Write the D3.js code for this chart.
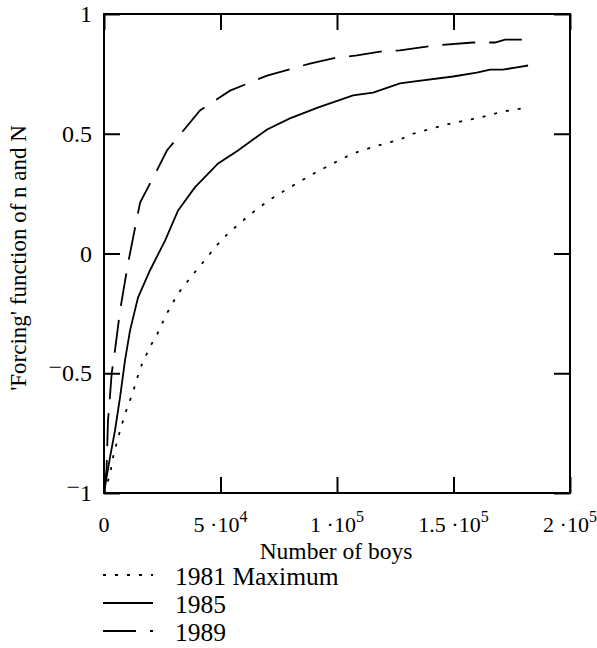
<!DOCTYPE html>
<html>
<head>
<meta charset="utf-8">
<script src="https://cdn.jsdelivr.net/npm/d3@7"></script>
<style>
  body { margin: 0; background: #fff; }
  text { font-family: "Liberation Serif", "Times New Roman", Times, serif; fill: #000; }
</style>
</head>
<body>
<div id="chart"></div>
<script>
// data (x = number of boys, y = forcing function)
var boys1981 = [0, 1100, 2600, 3900, 6000, 9000, 12400, 15500, 19700, 22700, 27000, 31800, 37800, 44200,
  47600, 51100, 54900, 62700, 71200, 79800, 89300, 98300, 106900, 117200, 127000, 132600, 147200,
  161400, 171200, 182000];
var force1981 = [-1, -0.97, -0.92, -0.85, -0.77, -0.67, -0.58, -0.48, -0.39, -0.34, -0.25, -0.167, -0.092, -0.017,
  0.025, 0.063, 0.098, 0.163, 0.225, 0.276, 0.33, 0.376, 0.418, 0.45, 0.476, 0.50, 0.539,
  0.568, 0.593, 0.61];

var boys1985 = [0, 1100, 2600, 4700, 6900, 9000, 11200, 14600, 19700, 26200, 31800, 39000, 49000, 57500,
  70000, 79800, 92000, 106900, 115500, 127000, 132600, 149800, 160000, 165700, 171200, 177200, 182000];
var force1985 = [-1, -0.935, -0.85, -0.74, -0.60, -0.447, -0.32, -0.184, -0.071, 0.054, 0.18, 0.276, 0.376, 0.43,
  0.518, 0.564, 0.61, 0.66, 0.672, 0.71, 0.718, 0.739, 0.755, 0.768, 0.768, 0.777, 0.785];

var boys1989 = [0, 1100, 1700, 2600, 3300, 4700, 6900, 10300, 14200, 15500, 22700, 27000, 41200, 54100,
  70000, 88400, 100000, 108600, 118500, 127000, 141200, 158400, 167800, 172100, 182000];
var force1989 = [-1, -0.9, -0.7, -0.59, -0.5, -0.405, -0.238, -0.042, 0.15, 0.213, 0.347, 0.43, 0.597, 0.68,
  0.743, 0.793, 0.818, 0.827, 0.843, 0.848, 0.868, 0.881, 0.881, 0.893, 0.893];

var seriesNames = ["1981 Maximum", "1985", "1989"];
var seriesDash = ["3,9", null, "33,14"];

var xTicks = [0, 50000, 100000, 150000, 200000];
var xTickBase = ["0", "5 \u00b710", "1 \u00b710", "1.5 \u00b710", "2 \u00b710"];
var xTickExp = ["", "4", "5", "5", "5"];
var yTicks = [-1, -0.5, 0, 0.5, 1];
var yTickLabels = ["1", "0.5", "0", "0.5", "1"];
var yTickNeg = [true, true, false, false, false];

var svgWidth = 597;
var svgHeight = 648;

var margin = {top: 14, right: 27, bottom: 155, left: 104};
var width = svgWidth - margin.left - margin.right;
var height = svgHeight - margin.top - margin.bottom;

var svg = d3.select("#chart")
  .append("svg")
  .attr("width", svgWidth)
  .attr("height", svgHeight);

var chartGroup = svg.append("g")
  .attr("transform", `translate(${margin.left}, ${margin.top})`);

var xScale = d3.scaleLinear().domain([0, 200000]).range([0, width]);
var yScale = d3.scaleLinear().domain([-1, 1]).range([height, 0]);

// inward ticks on all four sides
function tickAxis(axis, transform) {
  var g = chartGroup.append("g")
    .attr("transform", transform)
    .call(axis.tickSizeInner(-16).tickSizeOuter(0).tickFormat(""));
  g.select(".domain").remove();
  g.selectAll("line").attr("stroke", "#000").attr("stroke-width", 2);
  return g;
}
tickAxis(d3.axisBottom(xScale).tickValues(xTicks), `translate(0, ${height})`);
tickAxis(d3.axisTop(xScale).tickValues(xTicks), "translate(0, 0)");
tickAxis(d3.axisLeft(yScale).tickValues(yTicks), "translate(0, 0)");
tickAxis(d3.axisRight(yScale).tickValues(yTicks), `translate(${width}, 0)`);

chartGroup.append("rect")
  .attr("x", 0)
  .attr("y", 0)
  .attr("width", width)
  .attr("height", height)
  .attr("fill", "none")
  .attr("stroke", "#000")
  .attr("stroke-width", 2);

// tick labels
var xLab = chartGroup.append("g").selectAll("text")
  .data(xTicks)
  .enter()
  .append("text")
  .attr("x", d => xScale(d))
  .attr("y", height + 39)
  .attr("text-anchor", "middle")
  .style("font-size", "22px");
xLab.append("tspan").text((d, i) => xTickBase[i]);
xLab.append("tspan")
  .attr("dy", -10)
  .style("font-size", "16px")
  .text((d, i) => xTickExp[i]);

var yLab = chartGroup.append("g").selectAll("text")
  .data(yTicks)
  .enter()
  .append("text")
  .attr("x", -12)
  .attr("y", d => yScale(d) + 8)
  .attr("text-anchor", "end")
  .style("font-size", "24px");
yLab.append("tspan")
  .attr("dy", (d, i) => yTickNeg[i] ? -6 : 0)
  .text((d, i) => yTickNeg[i] ? "\u2212" : "");
yLab.append("tspan")
  .attr("dy", (d, i) => yTickNeg[i] ? 6 : 0)
  .text((d, i) => yTickLabels[i]);

// axis titles
svg.append("text")
  .attr("x", 336)
  .attr("y", 559)
  .attr("text-anchor", "middle")
  .style("font-size", "23.5px")
  .text("Number of boys");

svg.append("text")
  .attr("transform", "translate(26, 258) rotate(-90)")
  .attr("text-anchor", "middle")
  .style("font-size", "23px")
  .text("'Forcing' function of n and N");

// curves
var series = [
  d3.zip(boys1981, force1981),
  d3.zip(boys1985, force1985),
  d3.zip(boys1989, force1989)
];

var line = d3.line()
  .x(d => xScale(d[0]))
  .y(d => yScale(d[1]));

chartGroup.selectAll(".curve")
  .data(series)
  .enter()
  .append("path")
  .attr("class", "curve")
  .attr("d", line)
  .attr("fill", "none")
  .attr("stroke", "#000")
  .attr("stroke-width", 1.8)
  .attr("stroke-dasharray", (d, i) => seriesDash[i]);

// legend
var legend = svg.append("g").selectAll("g")
  .data(seriesNames)
  .enter()
  .append("g")
  .attr("transform", (d, i) => `translate(103, ${575 + i * 28})`);

legend.append("line")
  .attr("x1", 0)
  .attr("x2", 50)
  .attr("stroke", "#000")
  .attr("stroke-width", 1.8)
  .attr("stroke-dasharray", (d, i) => seriesDash[i]);

legend.append("text")
  .attr("x", 72)
  .attr("y", 10)
  .style("font-size", "25.5px")
  .text(d => d);
</script>
</body>
</html>
